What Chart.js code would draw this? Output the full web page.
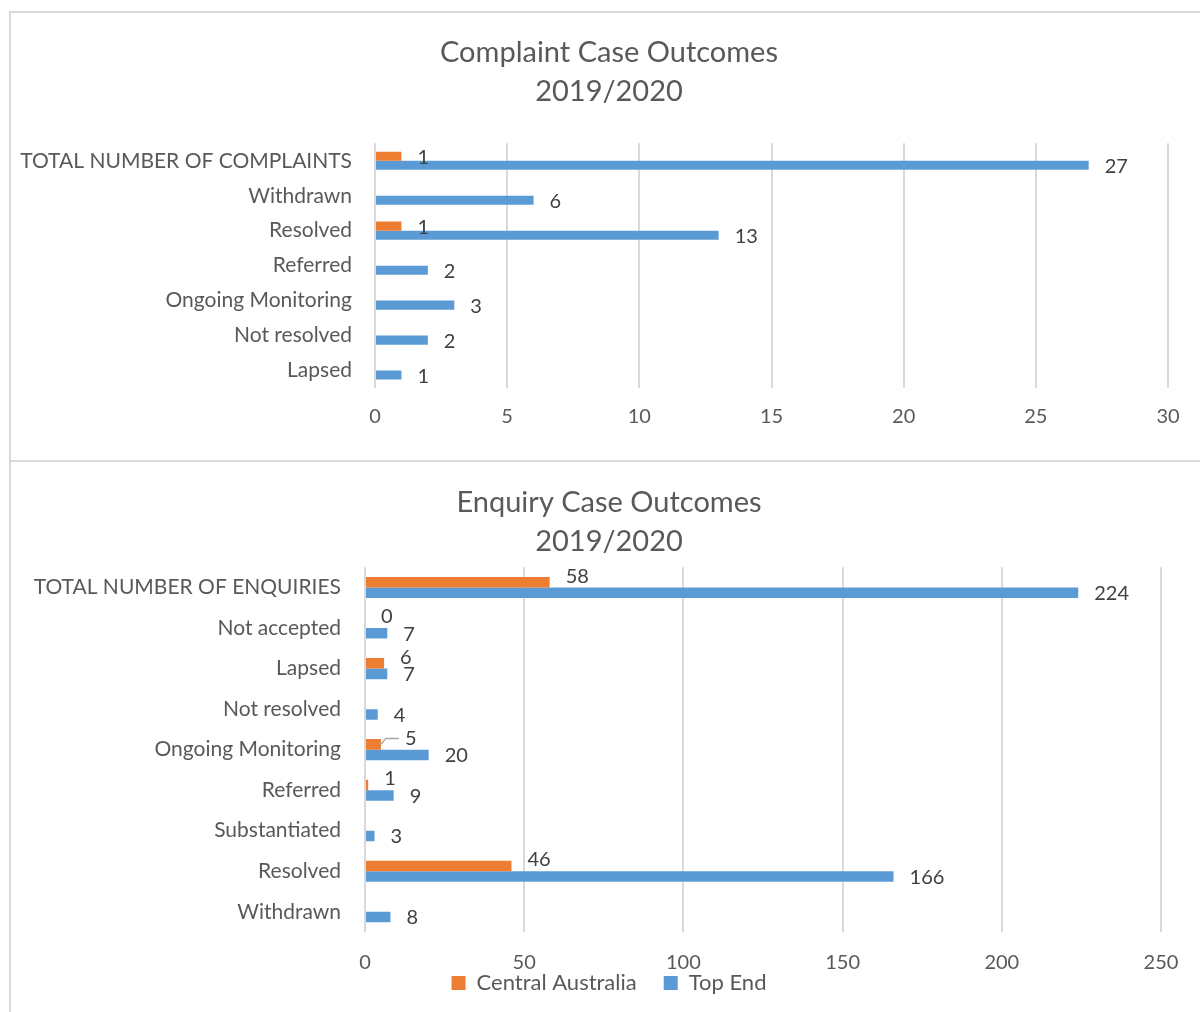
<!DOCTYPE html>
<html>
<head>
<meta charset="utf-8">
<script src="https://cdn.jsdelivr.net/npm/chart.js@4"></script>
<style>
  body { margin: 0; background: #fff; overflow: hidden; width: 1200px; height: 1012px; position: relative; }
  .box { position: absolute; left: 9px; width: 1200px; border: 2px solid #d9d9d9; box-sizing: border-box; background: #fff; }
  #boxTop { top: 11px; height: 452px; }
  #boxBottom { top: 460px; height: 560px; }
  canvas { display: block; }
</style>
</head>
<body>
<div class="box" id="boxTop"><canvas id="complaintChart" width="1196" height="448"></canvas></div>
<div class="box" id="boxBottom"><canvas id="enquiryChart" width="1196" height="556"></canvas></div>
<script>
const complaintCategories = ['TOTAL NUMBER OF COMPLAINTS', 'Withdrawn', 'Resolved', 'Referred', 'Ongoing Monitoring', 'Not resolved', 'Lapsed'];
const complaintCentral = [1, null, 1, null, null, null, null];
const complaintTopEnd = [27, 6, 13, 2, 3, 2, 1];
const complaintTicks = [0, 5, 10, 15, 20, 25, 30];

const enquiryCategories = ['TOTAL NUMBER OF ENQUIRIES', 'Not accepted', 'Lapsed', 'Not resolved', 'Ongoing Monitoring', 'Referred', 'Substantiated', 'Resolved', 'Withdrawn'];
const enquiryCentral = [58, 0, 6, null, 5, 1, null, 46, null];
const enquiryTopEnd = [224, 7, 7, 4, 20, 9, 3, 166, 8];
const enquiryTicks = [0, 50, 100, 150, 200, 250];

const seriesNames = ['Central Australia', 'Top End'];
const ORANGE = '#ED7D31';
const BLUE = '#5B9BD5';
const TEXT = '#595959';
const FONT = 'Lato, "Open Sans", sans-serif';

// value labels to the right of each bar end
const barValues = {
    id: 'barValues',
    afterLayout(chart) {
        // widen the label clip areas so tick text can run into the padding
        chart.scales.x.bottom = chart.height;
        chart.scales.y.left = 0;
    },
    afterDatasetsDraw(chart, args, opts) {
        const ctx = chart.ctx;
        ctx.save();
        ctx.font = '20px ' + FONT;
        ctx.fillStyle = '#404040';
        ctx.textAlign = 'left';
        ctx.textBaseline = 'middle';
        chart.data.datasets.forEach((ds, di) => {
            const meta = chart.getDatasetMeta(di);
            meta.data.forEach((bar, i) => {
                const v = ds.data[i];
                if (v === null || v === undefined) return;
                const cat = chart.data.labels[i];
                const leader = di === 0 && (opts.leaders || []).includes(cat);
                const x = bar.x + 16 + (leader ? 8 : 0);
                const y = bar.y + (opts.dy ? opts.dy[di] : 0);
                if (leader) {
                    ctx.strokeStyle = '#a6a6a6';
                    ctx.lineWidth = 1.5;
                    ctx.beginPath();
                    ctx.moveTo(bar.x, bar.y);
                    ctx.lineTo(bar.x + 5, y);
                    ctx.lineTo(x - 6, y);
                    ctx.stroke();
                }
                ctx.fillText(String(v), x, y);
            });
        });
        ctx.restore();
    }
};

function buildChart(id, opts) {
    const ctx = document.getElementById(id).getContext('2d');
    return new Chart(ctx, {
        type: 'bar',
        data: {
            labels: opts.labels,
            datasets: [{
                label: seriesNames[0],
                data: opts.central,
                backgroundColor: ORANGE,
                categoryPercentage: 0.52,
                barPercentage: 1
            }, {
                label: seriesNames[1],
                data: opts.topEnd,
                backgroundColor: BLUE,
                categoryPercentage: 0.52,
                barPercentage: 1
            }]
        },
        plugins: [barValues],
        options: {
            indexAxis: 'y',
            responsive: false,
            animation: false,
            layout: { padding: { left: opts.pad, right: opts.pad, top: 0, bottom: opts.padBottom } },
            plugins: {
                title: {
                    display: true,
                    text: opts.title,
                    color: TEXT,
                    font: { family: FONT, size: 29, weight: 'normal', lineHeight: 1.35 },
                    padding: opts.titlePad
                },
                legend: {
                    display: opts.legend,
                    position: 'bottom',
                    labels: {
                        color: TEXT,
                        boxWidth: 14,
                        boxHeight: 14,
                        padding: 27,
                        font: { family: FONT, size: 22 }
                    }
                },
                tooltip: { enabled: false },
                barValues: { dy: opts.labelDy, leaders: opts.leaders }
            },
            scales: {
                x: {
                    min: 0,
                    max: opts.ticks[opts.ticks.length - 1],
                    afterBuildTicks: (scale) => { scale.ticks = opts.ticks.map(v => ({ value: v })); },
                    grid: { color: '#d9d9d9', lineWidth: 2, drawTicks: false },
                    border: { display: false },
                    ticks: { color: TEXT, padding: opts.xTickPad, font: { family: FONT, size: 20 } },
                    afterFit: (scale) => { scale.height = opts.xHeight; }
                },
                y: {
                    grid: { display: false, drawTicks: false },
                    border: { display: false },
                    ticks: { color: TEXT, padding: opts.yTickPad, font: { family: FONT, size: 21 } },
                    afterFit: (scale) => { scale.width = opts.yWidth - opts.pad; }
                }
            }
        }
    });
}

buildChart('complaintChart', {
    labels: complaintCategories,
    central: complaintCentral,
    topEnd: complaintTopEnd,
    ticks: complaintTicks,
    title: ['Complaint Case Outcomes', '2019/2020'],
    titlePad: { top: 20, bottom: 32 },
    legend: false,
    pad: 39,
    padBottom: 32,
    xTickPad: 17,
    xHeight: 41,
    yWidth: 364,
    yTickPad: 23,
    labelDy: [1.5, 1.5],
    leaders: []
});

buildChart('enquiryChart', {
    labels: enquiryCategories,
    central: enquiryCentral,
    topEnd: enquiryTopEnd,
    ticks: enquiryTicks,
    title: ['Enquiry Case Outcomes', '2019/2020'],
    titlePad: { top: 21, bottom: 6 },
    legend: true,
    pad: 46,
    padBottom: 14,
    xTickPad: 19,
    xHeight: 13,
    yWidth: 354,
    yTickPad: 24,
    labelDy: [-6, 1],
    leaders: ['Ongoing Monitoring']
});
</script>
</body>
</html>
